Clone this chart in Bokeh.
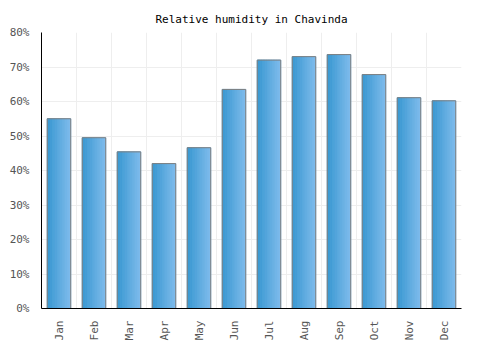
from bokeh.plotting import figure
from bokeh.models import FactorRange, FixedTicker, NumeralTickFormatter, ColumnDataSource, Title
from bokeh.transform import dodge
from bokeh.embed import file_html
from bokeh.resources import INLINE

months = ["Jan", "Feb", "Mar", "Apr", "May", "Jun", "Jul", "Aug", "Sep", "Oct", "Nov", "Dec"]
humidity = [55.0, 49.5, 45.4, 42.0, 46.6, 63.5, 72.0, 73.0, 73.6, 67.8, 61.1, 60.2]
y_ticks = [0, 10, 20, 30, 40, 50, 60, 70, 80]

FONT = "DejaVu Sans Mono"

src = ColumnDataSource(dict(month=months, value=humidity))

p = figure(width=500, height=350, x_range=FactorRange(*months), y_range=(0, 80),
           output_backend="svg", toolbar_location=None,
           min_border_left=41, min_border_right=39, min_border_top=32, min_border_bottom=42)

p.title = None
p.add_layout(Title(text="Relative humidity in Chavinda", align="center",
                   text_font=FONT, text_font_size="11px", text_font_style="normal",
                   text_color="#000000", standoff=13), "above")

# gradient fill via narrow strips
BAR_W = 0.67
N = 14
c0 = (0x3a, 0x98, 0xd1)
c1 = (0x7c, 0xba, 0xeb)
sw = BAR_W / N
for k in range(N):
    t = k / (N - 1)
    col = "#%02x%02x%02x" % tuple(int(round(a + (b - a) * t)) for a, b in zip(c0, c1))
    off = -BAR_W / 2 + sw * (k + 0.5)
    p.vbar(x=dodge("month", off, range=p.x_range), top="value", bottom=0, width=sw,
           source=src, fill_color=col, line_color=col, line_width=1)

p.vbar(x="month", top="value", bottom=0, width=BAR_W, source=src,
       fill_color=None, line_color="#7f7f7f", line_width=1)

p.yaxis.ticker = FixedTicker(ticks=y_ticks)
p.yaxis.formatter = NumeralTickFormatter(format="0'%'")
p.yaxis.major_label_overrides = {v: f"{v}%" for v in y_ticks}

for ax in (p.xaxis[0], p.yaxis[0]):
    ax.axis_line_color = "#000000"
    ax.axis_line_width = 1
    ax.major_tick_line_color = None
    ax.minor_tick_line_color = None
    ax.major_label_text_font = FONT
    ax.major_label_text_font_size = "11px"
    ax.major_label_text_color = "#555555"

p.xaxis.major_label_orientation = 1.5708
p.xaxis.major_label_standoff = 6
p.yaxis.major_label_standoff = 6

p.xgrid.ticker = FixedTicker(ticks=list(range(13)))
p.xgrid.grid_line_color = "#eeeeee"
p.ygrid.grid_line_color = "#eeeeee"
p.outline_line_color = None
p.background_fill_color = "#ffffff"
p.border_fill_color = "#ffffff"

open("out.html", "w").write(file_html(p, INLINE))
